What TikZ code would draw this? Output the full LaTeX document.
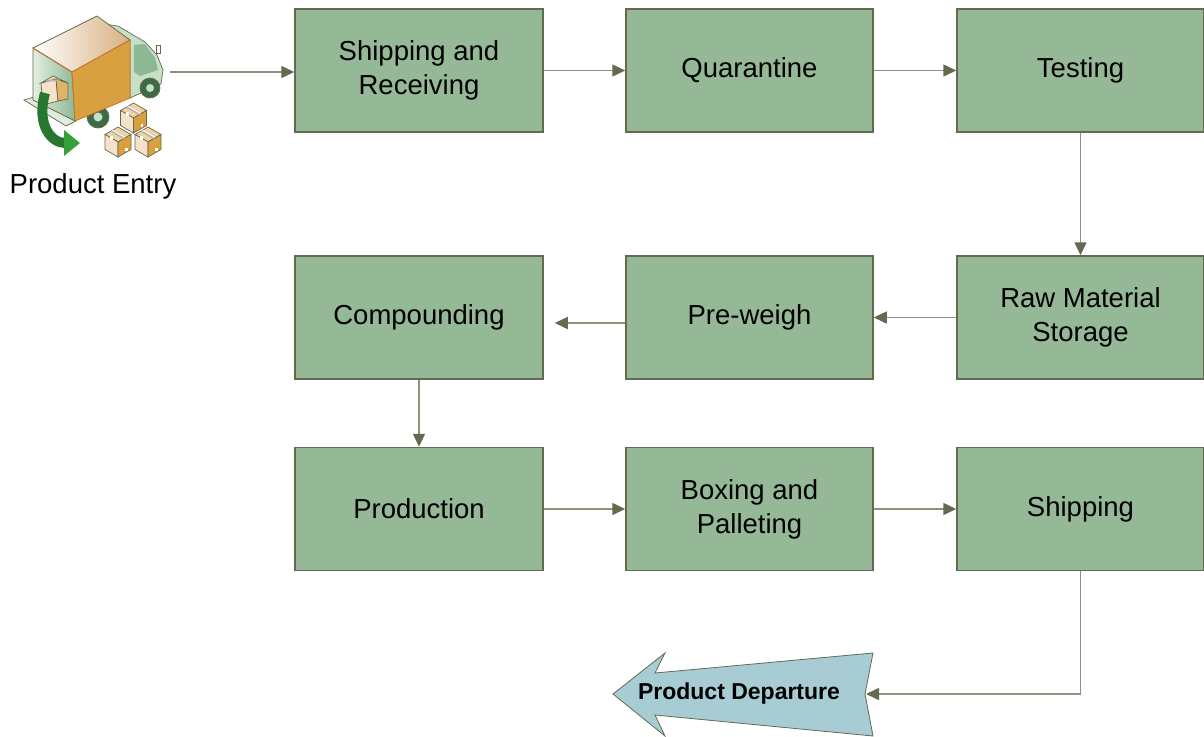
\documentclass[tikz,border=0pt]{standalone}
\usepackage{fontspec}
\setmainfont{Liberation Sans}
\usetikzlibrary{arrows.meta}
\definecolor{boxfill}{HTML}{95B897}
\definecolor{boxline}{HTML}{646A50}
\definecolor{conn}{HTML}{8F9080}
\definecolor{tipcol}{HTML}{646A50}
\definecolor{departfill}{HTML}{A8CCD4}
\definecolor{cabgreen}{HTML}{C6DFC6}
\definecolor{wingreen}{HTML}{8DB894}
\definecolor{wheelgreen}{HTML}{3D6B45}
\definecolor{cargoorange}{HTML}{D9A040}
\definecolor{cargoedge}{HTML}{D0702A}
\definecolor{cargotan}{HTML}{D8B080}
\definecolor{boxlight}{HTML}{F6E2C8}
\definecolor{boxtop}{HTML}{EFD3A8}
\definecolor{arrowgreen}{HTML}{35A03C}
\definecolor{arrowdark}{HTML}{1F5C2A}
\tikzset{
  stepbox/.style={draw=boxline, line width=1.5pt, fill=boxfill, minimum width=247pt,
    minimum height=123pt, inner sep=0pt, align=center, font=\fontsize{27.5}{34}\selectfont},
  conn/.style={draw=conn, line width=1.5pt,
    -{Triangle[length=13pt,width=12pt,color=tipcol]}},
  iconline/.style={draw=boxline, line width=0.7pt},
  cube/.pic={
    \path[iconline, fill=boxtop] (0,-15) -- (13,-7.5) -- (0,0) -- (-13,-7.5) -- cycle;
    \path[iconline, fill=boxlight] (-13,-7.5) -- (0,0) -- (0,15) -- (-13,7.5) -- cycle;
    \path[iconline, fill=cargoorange] (0,0) -- (13,-7.5) -- (13,7.5) -- (0,15) -- cycle;
    \draw[gray!60, line width=1.6pt] (-7,-11) -- (6,-3.5);
    \draw[white, line width=0.8pt] (-6,-12) -- (7,-4.5);
    \fill[white] (-8,-6) rectangle (-5,-2);
    \fill[white] (7,6) rectangle (9.5,9);
  }
}
\begin{document}
\begin{tikzpicture}[x=1pt,y=-1pt]
\useasboundingbox (0,0) rectangle (1204,736);

% ---------- truck icon ----------
% cab
\path[iconline, fill=cabgreen] (104,24) -- (118,26) -- (145,42) -- (157,55) -- (163,70)
  -- (161,84) -- (130,98) -- (130,40) -- cycle;
\path[fill=wingreen] (134,45) -- (145,44) -- (155,58) -- (158,70) -- (140,76) -- (134,72) -- cycle;
\path[iconline, fill=white] (156,45) rectangle (160,53);
% wheels
\path[iconline, fill=wheelgreen] (150,88) circle[radius=10];
\path[fill=cabgreen] (150,88) circle[radius=4];
\path[iconline, fill=wheelgreen] (98,117) circle[radius=11];
\path[fill=cabgreen] (98,117) circle[radius=4.5];
% tail plate
\path[iconline, fill=cabgreen!60] (24,100) -- (34,97) -- (76,121) -- (66,126) -- cycle;
% open back of cargo box
\path[iconline, left color=cabgreen!50, right color=wingreen] (33,48) -- (72,72) -- (75,121) -- (33,100) -- cycle;
% top face
\path[iconline, left color=white, right color=cargotan] (33,48) -- (97,16) -- (130,40) -- (72,72) -- cycle;
% orange side
\path[draw=cargoedge, line width=0.8pt, fill=cargoorange] (72,72) -- (130,40) -- (130,98) -- (75,121) -- cycle;
\draw[cargoedge, line width=0.8pt] (33,48) -- (72,72);
% small box inside
\path[iconline, fill=boxlight] (41,83) -- (56,79) -- (58,101) -- (43,105) -- cycle;
\path[iconline, fill=cargoorange!80] (56,79) -- (68,83) -- (68,99) -- (58,101) -- cycle;
\path[iconline, fill=boxtop] (41,83) -- (53,76) -- (68,83) -- (56,79) -- cycle;
\draw[gray!60, line width=1.4pt] (46,81) -- (60,80);
% boxes stack
\pic at (133.5,118) {cube};
\pic at (118,142) {cube};
\pic at (148,142) {cube};
% green curved arrow
\draw[line width=10pt, arrowdark!60!arrowgreen,
  -{Triangle[length=16pt,width=25pt,color=arrowgreen]}]
  (45,93) .. controls (36,126) and (52,143) .. (80,143);

\coordinate (truck) at (170,72);
\node[font=\fontsize{27.5}{32}\selectfont, anchor=base] (entry) at (93,193) {Product Entry};

% ---------- process boxes ----------
\node[stepbox, minimum width=248pt] (sr) at (419,70.5) {Shipping and\\Receiving};
\node[stepbox] (qu) at (749.5,70.5) {Quarantine};
\node[stepbox] (te) at (1080.5,70.5) {Testing};
\node[stepbox] (rm) at (1080.5,317.5) {Raw Material\\Storage};
\node[stepbox] (pw) at (749.5,317.5) {Pre-weigh};
\node[stepbox, minimum width=248pt] (co) at (419,317.5) {Compounding};
\node[stepbox, minimum width=248pt] (pr) at (419,509) {Production};
\node[stepbox] (bp) at (749.5,509) {Boxing and\\Palleting};
\node[stepbox] (sh) at (1080.5,509) {Shipping};

% ---------- departure arrow ----------
\path[draw=boxline, line width=0.8pt, fill=departfill]
  (613,694) -- (665,653) -- (655,673) -- (873,653) -- (865,694) -- (873,736)
  -- (655,715) -- (665,736) -- cycle;
\node[font=\bfseries\fontsize{23}{27}\selectfont] (dep) at (739,694) {Product Departure};
\coordinate (depin) at (866,694);

% ---------- connectors ----------
\draw[conn] (truck) -- (sr.west |- truck);
\draw[conn] (sr.east) -- (qu.west);
\draw[conn] (qu.east) -- (te.west);
\draw[conn] (te.south) -- (rm.north);
\draw[conn] (rm.west) -- (pw.east);
\draw[conn, shorten >=11pt] ([yshift=-5.5pt]pw.west) -- ([yshift=-5.5pt]co.east);
\draw[conn] (co.south) -- (pr.north);
\draw[conn] (pr.east) -- (bp.west);
\draw[conn] (bp.east) -- (sh.west);
\draw[conn] (sh.south) |- (depin);
\end{tikzpicture}
\end{document}
